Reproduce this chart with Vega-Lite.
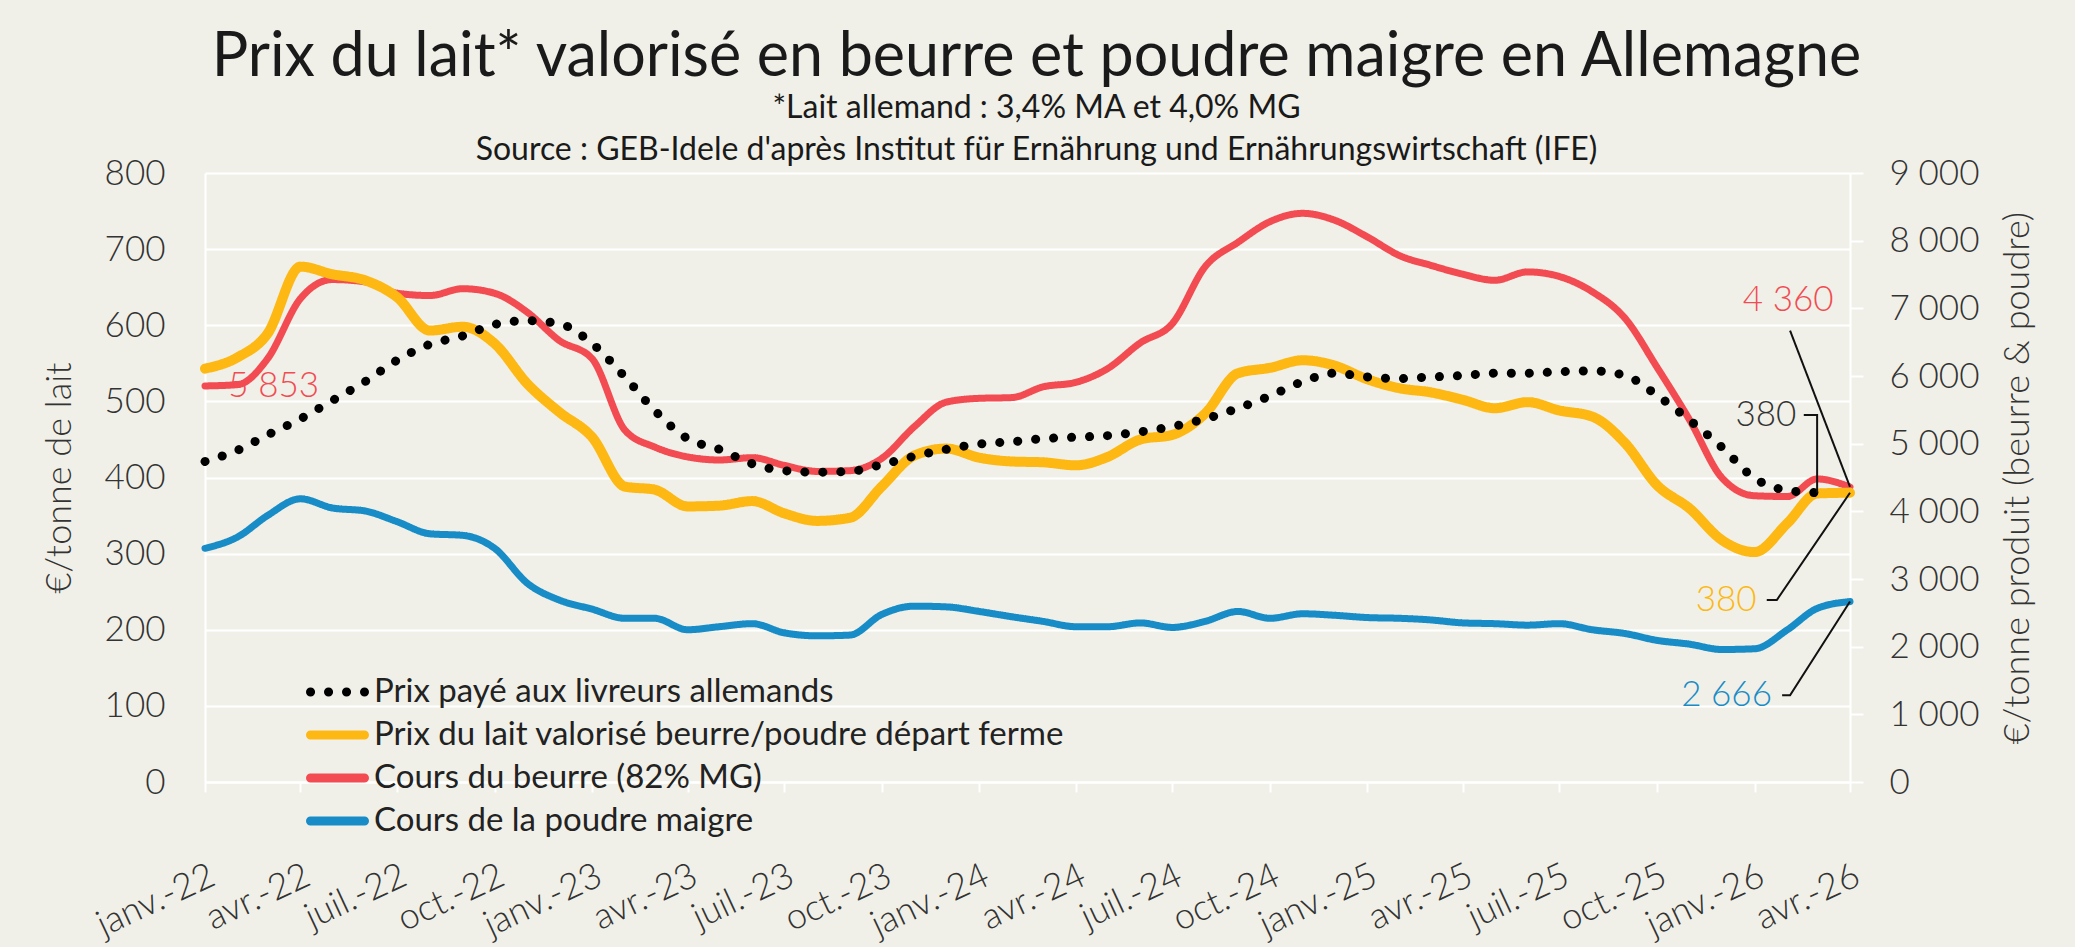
{
  "$schema": "https://vega.github.io/schema/vega-lite/v6.json",
  "width": 1645,
  "height": 609,
  "autosize": {"type": "none"},
  "padding": {"left": 205, "top": 173, "right": 225, "bottom": 165},
  "background": "#F0F0E8",
  "config": {
    "view": {"stroke": null},
    "font": "Lato",
    "locale": {
      "number": {"decimal": ",", "thousands": "\u202f", "grouping": [3], "currency": ["", "\u00a0€"]},
      "time": {
        "dateTime": "%A %e %B %Y à %X",
        "date": "%d/%m/%Y",
        "time": "%H:%M:%S",
        "periods": ["AM", "PM"],
        "days": ["dimanche", "lundi", "mardi", "mercredi", "jeudi", "vendredi", "samedi"],
        "shortDays": ["dim.", "lun.", "mar.", "mer.", "jeu.", "ven.", "sam."],
        "months": ["janvier", "février", "mars", "avril", "mai", "juin", "juillet", "août", "septembre", "octobre", "novembre", "décembre"],
        "shortMonths": ["janv.", "févr.", "mars", "avr.", "mai", "juin", "juil.", "août", "sept.", "oct.", "nov.", "déc."]
      }
    }
  },
  "title": {
    "text": "Prix du lait* valorisé en beurre et poudre maigre en Allemagne",
    "subtitle": ["*Lait allemand : 3,4% MA et 4,0% MG", "Source : GEB-Idele d'après Institut für Ernährung und Ernährungswirtschaft (IFE)"],
    "anchor": "middle",
    "dx": 9,
    "offset": -11,
    "font": "Lato",
    "fontSize": 61,
    "fontWeight": "normal",
    "color": "#1a1a1a",
    "subtitleFont": "Lato",
    "subtitleFontSize": 32,
    "subtitleColor": "#1a1a1a",
    "subtitleLineHeight": 42,
    "subtitlePadding": 4
  },
  "datasets": {
    "lait": [
      {"d": "2022-01-01", "paye": 421, "valorise": 543},
      {"d": "2022-02-01", "paye": 436, "valorise": 558},
      {"d": "2022-03-01", "paye": 456, "valorise": 589},
      {"d": "2022-04-01", "paye": 477, "valorise": 677},
      {"d": "2022-05-01", "paye": 501, "valorise": 667},
      {"d": "2022-06-01", "paye": 526, "valorise": 659},
      {"d": "2022-07-01", "paye": 554, "valorise": 637},
      {"d": "2022-08-01", "paye": 575, "valorise": 593},
      {"d": "2022-09-01", "paye": 586, "valorise": 598},
      {"d": "2022-10-01", "paye": 601, "valorise": 576},
      {"d": "2022-11-01", "paye": 606, "valorise": 523},
      {"d": "2022-12-01", "paye": 602, "valorise": 486},
      {"d": "2023-01-01", "paye": 576, "valorise": 453},
      {"d": "2023-02-01", "paye": 532, "valorise": 388},
      {"d": "2023-03-01", "paye": 488, "valorise": 384},
      {"d": "2023-04-01", "paye": 451, "valorise": 362},
      {"d": "2023-05-01", "paye": 437, "valorise": 363},
      {"d": "2023-06-01", "paye": 418, "valorise": 369},
      {"d": "2023-07-01", "paye": 409, "valorise": 353},
      {"d": "2023-08-01", "paye": 407, "valorise": 343},
      {"d": "2023-09-01", "paye": 408, "valorise": 347},
      {"d": "2023-10-01", "paye": 417, "valorise": 388},
      {"d": "2023-11-01", "paye": 428, "valorise": 429},
      {"d": "2023-12-01", "paye": 437, "valorise": 438},
      {"d": "2024-01-01", "paye": 444, "valorise": 426},
      {"d": "2024-02-01", "paye": 447, "valorise": 421},
      {"d": "2024-03-01", "paye": 451, "valorise": 420},
      {"d": "2024-04-01", "paye": 453, "valorise": 416},
      {"d": "2024-05-01", "paye": 455, "valorise": 427},
      {"d": "2024-06-01", "paye": 460, "valorise": 450},
      {"d": "2024-07-01", "paye": 467, "valorise": 456},
      {"d": "2024-08-01", "paye": 477, "valorise": 484},
      {"d": "2024-09-01", "paye": 491, "valorise": 537},
      {"d": "2024-10-01", "paye": 507, "valorise": 544},
      {"d": "2024-11-01", "paye": 526, "valorise": 554},
      {"d": "2024-12-01", "paye": 537, "valorise": 547},
      {"d": "2025-01-01", "paye": 532, "valorise": 529},
      {"d": "2025-02-01", "paye": 530, "valorise": 517},
      {"d": "2025-03-01", "paye": 532, "valorise": 512},
      {"d": "2025-04-01", "paye": 534, "valorise": 502},
      {"d": "2025-05-01", "paye": 537, "valorise": 491},
      {"d": "2025-06-01", "paye": 537, "valorise": 499},
      {"d": "2025-07-01", "paye": 539, "valorise": 488},
      {"d": "2025-08-01", "paye": 540, "valorise": 480},
      {"d": "2025-09-01", "paye": 534, "valorise": 445},
      {"d": "2025-10-01", "paye": 508, "valorise": 390},
      {"d": "2025-11-01", "paye": 475, "valorise": 359},
      {"d": "2025-12-01", "paye": 440, "valorise": 318},
      {"d": "2026-01-01", "paye": 399, "valorise": 302},
      {"d": "2026-02-01", "paye": 383, "valorise": 340},
      {"d": "2026-03-01", "paye": 380, "valorise": 379},
      {"d": "2026-04-01", "valorise": 380}
    ],
    "prod": [
      {"d": "2022-01-01", "beurre": 5853, "poudre": 3454},
      {"d": "2022-02-01", "beurre": 5873, "poudre": 3623},
      {"d": "2022-03-01", "beurre": 6255, "poudre": 3938},
      {"d": "2022-04-01", "beurre": 7144, "poudre": 4185},
      {"d": "2022-05-01", "beurre": 7425, "poudre": 4050},
      {"d": "2022-06-01", "beurre": 7391, "poudre": 4005},
      {"d": "2022-07-01", "beurre": 7223, "poudre": 3848},
      {"d": "2022-08-01", "beurre": 7189, "poudre": 3668},
      {"d": "2022-09-01", "beurre": 7290, "poudre": 3645},
      {"d": "2022-10-01", "beurre": 7223, "poudre": 3454},
      {"d": "2022-11-01", "beurre": 6941, "poudre": 2936},
      {"d": "2022-12-01", "beurre": 6525, "poudre": 2689},
      {"d": "2023-01-01", "beurre": 6255, "poudre": 2554},
      {"d": "2023-02-01", "beurre": 5198, "poudre": 2419},
      {"d": "2023-03-01", "beurre": 4950, "poudre": 2419},
      {"d": "2023-04-01", "beurre": 4804, "poudre": 2250},
      {"d": "2023-05-01", "beurre": 4759, "poudre": 2295},
      {"d": "2023-06-01", "beurre": 4793, "poudre": 2340},
      {"d": "2023-07-01", "beurre": 4680, "poudre": 2205},
      {"d": "2023-08-01", "beurre": 4590, "poudre": 2160},
      {"d": "2023-09-01", "beurre": 4601, "poudre": 2171},
      {"d": "2023-10-01", "beurre": 4781, "poudre": 2475},
      {"d": "2023-11-01", "beurre": 5254, "poudre": 2599},
      {"d": "2023-12-01", "beurre": 5614, "poudre": 2588},
      {"d": "2024-01-01", "beurre": 5670, "poudre": 2520},
      {"d": "2024-02-01", "beurre": 5681, "poudre": 2441},
      {"d": "2024-03-01", "beurre": 5839, "poudre": 2374},
      {"d": "2024-04-01", "beurre": 5906, "poudre": 2295},
      {"d": "2024-05-01", "beurre": 6109, "poudre": 2295},
      {"d": "2024-06-01", "beurre": 6491, "poudre": 2351},
      {"d": "2024-07-01", "beurre": 6773, "poudre": 2284},
      {"d": "2024-08-01", "beurre": 7616, "poudre": 2374},
      {"d": "2024-09-01", "beurre": 7976, "poudre": 2520},
      {"d": "2024-10-01", "beurre": 8280, "poudre": 2419},
      {"d": "2024-11-01", "beurre": 8404, "poudre": 2486},
      {"d": "2024-12-01", "beurre": 8303, "poudre": 2464},
      {"d": "2025-01-01", "beurre": 8055, "poudre": 2430},
      {"d": "2025-02-01", "beurre": 7774, "poudre": 2419},
      {"d": "2025-03-01", "beurre": 7639, "poudre": 2396},
      {"d": "2025-04-01", "beurre": 7504, "poudre": 2351},
      {"d": "2025-05-01", "beurre": 7414, "poudre": 2340},
      {"d": "2025-06-01", "beurre": 7538, "poudre": 2318},
      {"d": "2025-07-01", "beurre": 7470, "poudre": 2340},
      {"d": "2025-08-01", "beurre": 7245, "poudre": 2250},
      {"d": "2025-09-01", "beurre": 6851, "poudre": 2194},
      {"d": "2025-10-01", "beurre": 6131, "poudre": 2093},
      {"d": "2025-11-01", "beurre": 5344, "poudre": 2036},
      {"d": "2025-12-01", "beurre": 4500, "poudre": 1958},
      {"d": "2026-01-01", "beurre": 4230, "poudre": 1969},
      {"d": "2026-02-01", "beurre": 4219, "poudre": 2250},
      {"d": "2026-03-01", "beurre": 4478, "poudre": 2565},
      {"d": "2026-04-01", "beurre": 4360, "poudre": 2666}
    ],
    "notes": [
      {"k": "debut", "d": "2022-01-23", "v": 520, "t": "5 853"},
      {"k": "beurre", "d": "2026-03-16T12:00:00Z", "v": 633, "t": "4 360"},
      {"k": "paye", "d": "2026-02-09T10:00:00Z", "v": 482, "t": "380"},
      {"k": "valorise", "d": "2026-01-02T22:00:00Z", "v": 239, "t": "380"},
      {"k": "poudre", "d": "2026-01-17T10:00:00Z", "v": 114, "t": "2 666"}
    ],
    "leaders": [
      {"g": "beurre", "i": 0, "d": "2026-02-03T12:00:00Z", "v": 593},
      {"g": "beurre", "i": 1, "d": "2026-04-01", "v": 387.6},
      {"g": "paye", "i": 0, "d": "2026-02-16T10:00:00Z", "v": 482},
      {"g": "paye", "i": 1, "d": "2026-03-01", "v": 482},
      {"g": "paye", "i": 2, "d": "2026-03-01", "v": 380},
      {"g": "valorise", "i": 0, "d": "2026-01-12T12:00:00Z", "v": 239},
      {"g": "valorise", "i": 1, "d": "2026-01-22", "v": 239},
      {"g": "valorise", "i": 2, "d": "2026-04-01", "v": 380},
      {"g": "poudre", "i": 0, "d": "2026-01-27", "v": 114},
      {"g": "poudre", "i": 1, "d": "2026-02-03T12:00:00Z", "v": 114},
      {"g": "poudre", "i": 2, "d": "2026-04-01", "v": 237}
    ]
  },
  "encoding": {
    "x": {
      "field": "d",
      "type": "temporal",
      "scale": {"type": "utc", "domain": [{"year": 2022, "month": 1, "date": 1, "utc": true}, {"year": 2026, "month": 4, "date": 1, "utc": true}], "nice": false},
      "axis": {
        "title": null,
        "labelExpr": "utcFormat(datum.value, '%b-%y')",
        "tickCount": {"interval": "month", "step": 3},
        "grid": false,
        "domain": true,
        "domainColor": "#ffffff",
        "domainWidth": 2,
        "ticks": true,
        "tickColor": "#ffffff",
        "tickWidth": 2,
        "tickSize": 10,
        "labelAngle": -25,
        "labelAlign": "right",
        "labelBaseline": "top",
        "labelPadding": 66,
        "labelFont": "Lato",
        "labelFontWeight": 300,
        "labelFontSize": 36,
        "labelColor": "#333333",
        "labelOverlap": false,
        "labelBound": false,
        "labelFlush": false
      }
    }
  },
  "layer": [
    {
      "encoding": {
        "y": {
          "field": "v",
          "type": "quantitative",
          "scale": {"domain": [0, 9000], "nice": false},
          "axis": {
            "orient": "right",
            "title": "€/tonne produit (beurre & poudre)",
            "values": [0, 1000, 2000, 3000, 4000, 5000, 6000, 7000, 8000, 9000],
            "grid": false,
            "domain": true,
            "domainColor": "#ffffff",
            "domainWidth": 2,
            "ticks": true,
            "tickColor": "#ffffff",
            "tickWidth": 2,
            "tickSize": 13,
            "labelPadding": 26,
            "labelFont": "Lato",
            "labelFontWeight": 300,
            "labelFontSize": 35,
            "labelColor": "#333333",
            "titleFont": "Lato",
            "titleFontWeight": 300,
            "titleFontSize": 36,
            "titleColor": "#333333",
            "titleAngle": -90,
            "titleBaseline": "top",
            "titlePadding": 22
          }
        }
      },
      "layer": [
        {
          "data": {"name": "prod"},
          "transform": [{"fold": ["beurre", "poudre"], "as": ["serie", "v"]}, {"filter": "datum.serie === 'poudre'"}],
          "mark": {"type": "line", "interpolate": "monotone", "strokeWidth": 7, "strokeCap": "round", "strokeJoin": "round"},
          "encoding": {
            "color": {"field": "serie", "type": "nominal", "scale": {"domain": ["paye", "valorise", "beurre", "poudre"], "range": ["#000000", "#FDB813", "#F24C52", "#188CC6"]},
              "legend": {
                "orient": "none", "legendX": 101, "legendY": 500, "title": null, "padding": 0,
                "symbolType": "stroke", "symbolSize": 2916, "symbolStrokeWidth": 9,
                "clipHeight": 38, "rowPadding": 5, "labelOffset": 5, "labelLimit": 1000,
                "labelFont": "Lato", "labelFontSize": 33, "labelColor": "#222222",
                "labelExpr": "{'paye': 'Prix payé aux livreurs allemands', 'valorise': 'Prix du lait valorisé beurre/poudre départ ferme', 'beurre': 'Cours du beurre (82% MG)', 'poudre': 'Cours de la poudre maigre'}[datum.label]",
                "encode": {"symbols": {"update": {"strokeCap": {"value": "round"}}}}
              }
            },
            "strokeDash": {"field": "serie", "type": "nominal", "scale": {"domain": ["paye", "valorise", "beurre", "poudre"], "range": [[0.1, 17.9], [1, 0], [1, 0], [1, 0]]}}
          }
        },
        {
          "data": {"name": "prod"},
          "transform": [{"fold": ["beurre", "poudre"], "as": ["serie", "v"]}, {"filter": "datum.serie === 'beurre'"}],
          "mark": {"type": "line", "interpolate": "monotone", "strokeWidth": 7, "strokeCap": "round", "strokeJoin": "round"},
          "encoding": {
            "color": {"field": "serie", "type": "nominal", "scale": {"domain": ["paye", "valorise", "beurre", "poudre"], "range": ["#000000", "#FDB813", "#F24C52", "#188CC6"]}},
            "strokeDash": {"field": "serie", "type": "nominal", "scale": {"domain": ["paye", "valorise", "beurre", "poudre"], "range": [[0.1, 17.9], [1, 0], [1, 0], [1, 0]]}}
          }
        }
      ]
    },
    {
      "encoding": {
        "y": {
          "field": "v",
          "type": "quantitative",
          "scale": {"domain": [0, 800], "nice": false},
          "axis": {
            "orient": "left",
            "title": "€/tonne de lait",
            "values": [0, 100, 200, 300, 400, 500, 600, 700, 800],
            "grid": true,
            "gridColor": "#ffffff",
            "gridWidth": 2,
            "domain": true,
            "domainColor": "#ffffff",
            "domainWidth": 2,
            "ticks": false,
            "tickSize": 0,
            "labelPadding": 40,
            "labelFont": "Lato",
            "labelFontWeight": 300,
            "labelFontSize": 35,
            "labelColor": "#333333",
            "titleFont": "Lato",
            "titleFontWeight": 300,
            "titleFontSize": 36,
            "titleColor": "#333333",
            "titlePadding": 26
          }
        }
      },
      "layer": [
        {
          "data": {"name": "lait"},
          "transform": [{"fold": ["paye", "valorise"], "as": ["serie", "v"]}, {"filter": "datum.serie === 'valorise' && isValid(datum.v)"}],
          "mark": {"type": "line", "interpolate": "monotone", "strokeWidth": 10, "strokeCap": "round", "strokeJoin": "round"},
          "encoding": {
            "color": {"field": "serie", "type": "nominal", "scale": {"domain": ["paye", "valorise", "beurre", "poudre"], "range": ["#000000", "#FDB813", "#F24C52", "#188CC6"]}},
            "strokeDash": {"field": "serie", "type": "nominal", "scale": {"domain": ["paye", "valorise", "beurre", "poudre"], "range": [[0.1, 17.9], [1, 0], [1, 0], [1, 0]]}}
          }
        },
        {
          "data": {"name": "lait"},
          "transform": [{"fold": ["paye", "valorise"], "as": ["serie", "v"]}, {"filter": "datum.serie === 'paye' && isValid(datum.v)"}],
          "mark": {"type": "line", "interpolate": "monotone", "strokeWidth": 9, "strokeCap": "round", "strokeJoin": "round"},
          "encoding": {
            "color": {"field": "serie", "type": "nominal", "scale": {"domain": ["paye", "valorise", "beurre", "poudre"], "range": ["#000000", "#FDB813", "#F24C52", "#188CC6"]}},
            "strokeDash": {"field": "serie", "type": "nominal", "scale": {"domain": ["paye", "valorise", "beurre", "poudre"], "range": [[0.1, 17.9], [1, 0], [1, 0], [1, 0]]}}
          }
        },
        {
          "data": {"name": "leaders"},
          "mark": {"type": "line", "color": "#111111", "strokeWidth": 2},
          "encoding": {
            "detail": {"field": "g"},
            "order": {"field": "i", "type": "quantitative"}
          }
        },
        {
          "data": {"name": "notes"},
          "transform": [{"filter": "datum.k === 'debut'"}],
          "mark": {"type": "text", "align": "left", "baseline": "middle", "font": "Lato", "fontWeight": 300, "fontSize": 35, "color": "#F24C52"},
          "encoding": {"text": {"field": "t"}}
        },
        {
          "data": {"name": "notes"},
          "transform": [{"filter": "datum.k === 'beurre'"}],
          "mark": {"type": "text", "align": "right", "baseline": "middle", "font": "Lato", "fontWeight": 300, "fontSize": 35, "color": "#F24C52"},
          "encoding": {"text": {"field": "t"}}
        },
        {
          "data": {"name": "notes"},
          "transform": [{"filter": "datum.k === 'paye'"}],
          "mark": {"type": "text", "align": "right", "baseline": "middle", "font": "Lato", "fontWeight": 300, "fontSize": 35, "color": "#333333"},
          "encoding": {"text": {"field": "t"}}
        },
        {
          "data": {"name": "notes"},
          "transform": [{"filter": "datum.k === 'valorise'"}],
          "mark": {"type": "text", "align": "right", "baseline": "middle", "font": "Lato", "fontWeight": 300, "fontSize": 35, "color": "#FDB813"},
          "encoding": {"text": {"field": "t"}}
        },
        {
          "data": {"name": "notes"},
          "transform": [{"filter": "datum.k === 'poudre'"}],
          "mark": {"type": "text", "align": "right", "baseline": "middle", "font": "Lato", "fontWeight": 300, "fontSize": 35, "color": "#188CC6"},
          "encoding": {"text": {"field": "t"}}
        }
      ]
    }
  ],
  "resolve": {"scale": {"y": "independent"}}
}
